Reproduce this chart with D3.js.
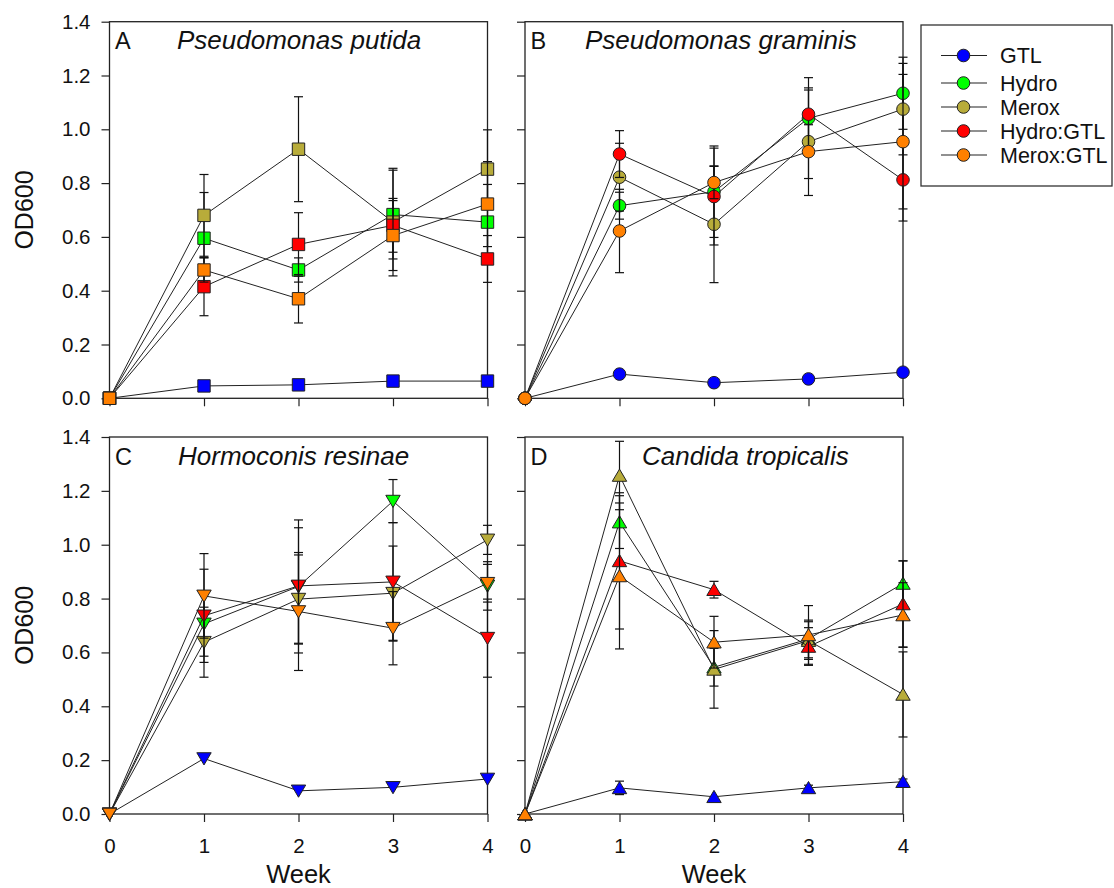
<!DOCTYPE html>
<html lang="en">
<head>
    <meta charset="UTF-8">
    <title>OD600 by week</title>
    <script src="https://d3js.org/d3.v7.min.js"></script>
    <style>
        body {
            margin: 0;
            background: #ffffff;
            font-family: "Liberation Sans", Arial, sans-serif;
        }
        text {
            fill: #111;
        }
    </style>
</head>
<body>
    <div id="chart"></div>

    <script>
        // weeks on the x axis
        const weeks = [0, 1, 2, 3, 4];
        const seriesNames = ["GTL", "Hydro", "Merox", "Hydro:GTL", "Merox:GTL"];
        const seriesColors = ["#0000ff", "#00ff00", "#b8ac3a", "#ff0000", "#ff8000"];
        const yTicks = [0, 0.2, 0.4, 0.6, 0.8, 1.0, 1.2, 1.4];

        const panelLetters = ["A", "B", "C", "D"];
        const panelTitles = ["Pseudomonas putida", "Pseudomonas graminis", "Hormoconis resinae", "Candida tropicalis"];

        // mean OD600, one row per series (GTL, Hydro, Merox, Hydro:GTL, Merox:GTL)
        const putidaMeans = [
            [0, 0.046, 0.050, 0.064, 0.064],
            [0, 0.595, 0.477, 0.683, 0.655],
            [0, 0.680, 0.926, 0.655, 0.852],
            [0, 0.415, 0.572, 0.643, 0.518],
            [0, 0.477, 0.370, 0.605, 0.722]
        ];
        const putidaErrors = [
            [0, 0, 0, 0, 0],
            [0, 0.170, 0.045, 0.165, 0.140],
            [0, 0.152, 0.195, 0.200, 0.146],
            [0, 0.108, 0.118, 0.100, 0.087],
            [0, 0.045, 0.090, 0.130, 0.158]
        ];

        const graminisMeans = [
            [0, 0.090, 0.058, 0.072, 0.097],
            [0, 0.716, 0.768, 1.041, 1.134],
            [0, 0.822, 0.647, 0.954, 1.075],
            [0, 0.908, 0.750, 1.056, 0.812],
            [0, 0.622, 0.802, 0.917, 0.954]
        ];
        const graminisErrors = [
            [0, 0, 0, 0, 0],
            [0, 0.050, 0.170, 0.105, 0.134],
            [0, 0.126, 0.217, 0.200, 0.170],
            [0, 0.087, 0.180, 0.136, 0.153],
            [0, 0.155, 0.060, 0.100, 0.250]
        ];

        const resinaeMeans = [
            [0, 0.206, 0.086, 0.099, 0.130],
            [0, 0.706, 0.845, 1.162, 0.847],
            [0, 0.638, 0.798, 0.820, 1.018],
            [0, 0.736, 0.847, 0.862, 0.653],
            [0, 0.810, 0.752, 0.690, 0.857]
        ];
        const resinaeErrors = [
            [0, 0, 0, 0, 0],
            [0, 0.120, 0.247, 0.080, 0.090],
            [0, 0.130, 0.164, 0.175, 0.054],
            [0, 0.173, 0.216, 0.220, 0.145],
            [0, 0.157, 0.219, 0.136, 0.070]
        ];

        const tropicalisMeans = [
            [0, 0.097, 0.064, 0.097, 0.120],
            [0, 1.084, 0.545, 0.650, 0.856],
            [0, 1.257, 0.537, 0.644, 0.444],
            [0, 0.940, 0.833, 0.622, 0.780],
            [0, 0.884, 0.638, 0.665, 0.739]
        ];
        const tropicalisErrors = [
            [0, 0.025, 0, 0.010, 0.010],
            [0, 0.098, 0.070, 0.070, 0.084],
            [0, 0.127, 0.144, 0.070, 0.158],
            [0, 0.253, 0.031, 0.070, 0.160],
            [0, 0.271, 0.096, 0.109, 0.120]
        ];

        const panelMeans = [putidaMeans, graminisMeans, resinaeMeans, tropicalisMeans];
        const panelErrors = [putidaErrors, graminisErrors, resinaeErrors, tropicalisErrors];
        const panelShapes = ["square", "circle", "triangleDown", "triangleUp"];

        const width = 1114, height = 888;
        const svg = d3.select("#chart").append("svg")
            .attr("width", width)
            .attr("height", height)
            .style("display", "block");

        // panel boxes: left, right, top, bottom
        const boxes = [
            {x0: 109.5, x1: 487.5, y0: 21.7, y1: 398.3},
            {x0: 525, x1: 903, y0: 21.7, y1: 398.3},
            {x0: 109.5, x1: 487.5, y0: 437, y1: 814},
            {x0: 525, x1: 903, y0: 437, y1: 814}
        ];

        function markerPath(shape) {
            if (shape === "square") return "M-6.2,-6.2H6.2V6.2H-6.2Z";
            if (shape === "circle") return d3.symbol(d3.symbolCircle, Math.PI * 6.3 * 6.3)();
            if (shape === "triangleDown") return "M-7.2,-5.8H7.2L0,6.4Z";
            return "M-7.2,5.8H7.2L0,-6.4Z";
        }

        boxes.forEach((b, p) => {
            const x = d3.scaleLinear().domain([0, 4]).range([b.x0, b.x1]);
            const y = d3.scaleLinear().domain([0, 1.4]).range([b.y1, b.y0]);
            const g = svg.append("g");
            const leftCol = (p % 2 === 0);
            const bottomRow = (p >= 2);

            // y axis
            const yAxis = d3.axisLeft(y).tickValues(yTicks).tickSize(8).tickPadding(11)
                .tickFormat(leftCol ? d3.format(".1f") : "");
            const ya = g.append("g").attr("transform", `translate(${b.x0},0)`).call(yAxis);
            ya.select(".domain").remove();
            ya.selectAll("line").attr("stroke", "#222").attr("stroke-width", 1.2);
            ya.selectAll("text").style("font-size", "20.5px").style("font-family", "'Liberation Sans', Arial, sans-serif").attr("fill", "#111");

            // x axis
            const xAxis = d3.axisBottom(x).tickValues(weeks).tickSize(8).tickPadding(16)
                .tickFormat(bottomRow ? d3.format("d") : "");
            const xa = g.append("g").attr("transform", `translate(0,${b.y1})`).call(xAxis);
            xa.select(".domain").remove();
            xa.selectAll("line").attr("stroke", "#222").attr("stroke-width", 1.2);
            xa.selectAll("text").style("font-size", "20.5px").style("font-family", "'Liberation Sans', Arial, sans-serif").attr("fill", "#111");

            // frame
            g.append("rect")
                .attr("x", b.x0).attr("y", b.y0)
                .attr("width", b.x1 - b.x0).attr("height", b.y1 - b.y0)
                .attr("fill", "none").attr("stroke", "#222").attr("stroke-width", 1.3);

            // letter + species name
            g.append("text").attr("x", b.x0 + 5.5).attr("y", b.y0 + 27.5)
                .style("font-size", "23.5px").text(panelLetters[p]);
            const titleX = [177, 585, 178, 642][p];
            g.append("text").attr("x", titleX).attr("y", b.y0 + 27.5)
                .style("font-size", "26px").style("font-style", "italic")
                .text(panelTitles[p]);

            // series
            const line = d3.line().x((d, i) => x(weeks[i])).y(d => y(d));
            panelMeans[p].forEach((vals, s) => {
                const errs = panelErrors[p][s];
                const sg = g.append("g");

                const eb = sg.selectAll(".eb").data(vals.map((v, i) => ({w: weeks[i], v: v, e: errs[i]})).filter(d => d.e > 0))
                    .enter().append("g").attr("stroke", "#111").attr("stroke-width", 1.2);
                eb.append("line")
                    .attr("x1", d => x(d.w)).attr("x2", d => x(d.w))
                    .attr("y1", d => y(d.v - d.e)).attr("y2", d => y(d.v + d.e));
                eb.append("line")
                    .attr("x1", d => x(d.w) - 4.5).attr("x2", d => x(d.w) + 4.5)
                    .attr("y1", d => y(d.v + d.e)).attr("y2", d => y(d.v + d.e));
                eb.append("line")
                    .attr("x1", d => x(d.w) - 4.5).attr("x2", d => x(d.w) + 4.5)
                    .attr("y1", d => y(d.v - d.e)).attr("y2", d => y(d.v - d.e));

                sg.append("path").datum(vals)
                    .attr("d", line)
                    .attr("fill", "none")
                    .attr("stroke", "#222")
                    .attr("stroke-width", 1);

                sg.selectAll(".mk").data(vals).enter().append("path")
                    .attr("d", markerPath(panelShapes[p]))
                    .attr("transform", (d, i) => `translate(${x(weeks[i])},${y(d)})`)
                    .attr("fill", seriesColors[s])
                    .attr("stroke", "#222")
                    .attr("stroke-width", 1);
            });

            if (leftCol) {
                svg.append("text")
                    .attr("transform", `translate(33,${(b.y0 + b.y1) / 2}) rotate(-90)`)
                    .attr("text-anchor", "middle")
                    .style("font-size", "25px")
                    .text("OD600");
            }
            if (bottomRow) {
                svg.append("text")
                    .attr("x", (b.x0 + b.x1) / 2).attr("y", 883)
                    .attr("text-anchor", "middle")
                    .style("font-size", "25.5px")
                    .text("Week");
            }
        });

        // legend
        const lg = svg.append("g");
        lg.append("rect")
            .attr("x", 921).attr("y", 25).attr("width", 191).attr("height", 161)
            .attr("fill", "none").attr("stroke", "#333").attr("stroke-width", 1.3);
        const legendY = [55.5, 83, 107, 131, 155];
        seriesNames.forEach((name, s) => {
            lg.append("line")
                .attr("x1", 941).attr("x2", 987)
                .attr("y1", legendY[s]).attr("y2", legendY[s])
                .attr("stroke", "#222").attr("stroke-width", 1.2);
            lg.append("path")
                .attr("d", markerPath("circle"))
                .attr("transform", `translate(963.5,${legendY[s]})`)
                .attr("fill", seriesColors[s])
                .attr("stroke", "#222").attr("stroke-width", 1);
            lg.append("text")
                .attr("x", 1000).attr("y", legendY[s] + 7.5)
                .style("font-size", "21.5px")
                .text(name);
        });
    </script>
</body>
</html>
